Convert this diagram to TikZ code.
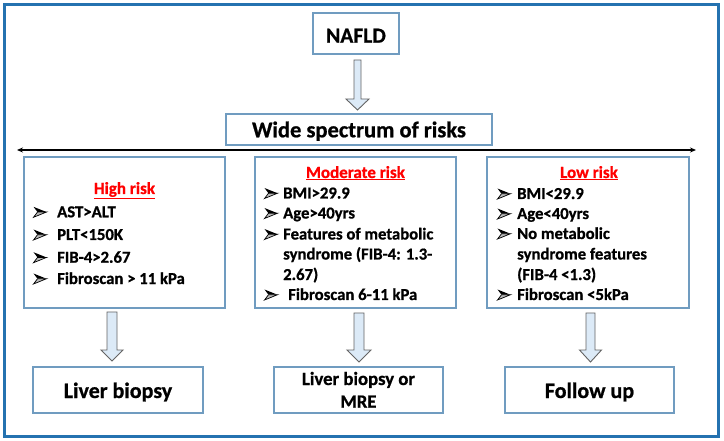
\documentclass[tikz,border=0pt]{standalone}
\usepackage{fontspec}
\setmainfont{Carlito}[BoldFeatures={FakeBold=0.8}]
\usetikzlibrary{arrows.meta,calc}
\definecolor{frameblue}{RGB}{36,114,176}
\definecolor{boxblue}{RGB}{112,156,192}
\definecolor{arrowfill}{RGB}{220,234,247}
\definecolor{arrowline}{RGB}{100,100,100}
\newcommand\blockarr[5]{%
  \draw[barrow] let \p1=(#1), \p2=(#2) in
    (\x1-#3pt,\y1) -- (\x1+#3pt,\y1) -- (\x1+#3pt,\y2+#5pt) -- (\x1+#4pt,\y2+#5pt)
    -- (\x2,\y2) -- (\x1-#4pt,\y2+#5pt) -- (\x1-#3pt,\y2+#5pt) -- cycle;}
% arrowhead bullet: #1 = centre x, #2 = baseline y
\newcommand\arrbul[2]{%
  \begin{scope}[shift={(#1-6.5,#2-10.5)}]
    \fill[black] (0,0) -- (13,5.25) -- (4,5.25) -- cycle;
    \filldraw[fill=gray!55, draw=black, line width=0.7pt, line join=miter] (4,5.25) -- (13,5.25) -- (0,10.5) -- cycle;
  \end{scope}}
\begin{document}
\begin{tikzpicture}[x=1pt,y=-1pt,
  box/.style={draw=boxblue, line width=1.1pt, fill=white, inner sep=0pt},
  barrow/.style={draw=arrowline, fill=arrowfill, line width=0.9pt, line join=miter},
  big/.style={anchor=base, inner sep=0pt, font=\bfseries\fontsize{22}{26}\selectfont},
  ttl/.style={anchor=base, inner sep=0pt, text=red, font=\bfseries\fontsize{17}{20}\selectfont},
  txt/.style={anchor=base west, inner sep=0pt, font=\bfseries\fontsize{16.7}{20}\selectfont}]
\useasboundingbox (0,0) rectangle (724,441);
\fill[white] (0,0) rectangle (724,441);
\draw[frameblue, line width=3pt] (4.5,4.5) rectangle (718,436.5);

% boxes
\node[box, minimum width=86pt, minimum height=41pt] (nafld) at (356,33.5) {};
\node[box, minimum width=266pt, minimum height=31pt] (wide) at (359,129.5) {};
\node[box, minimum width=201pt, minimum height=151pt] (high) at (124.5,232.5) {};
\node[box, minimum width=201pt, minimum height=151pt] (mod) at (355.5,232.5) {};
\node[box, minimum width=202pt, minimum height=151pt] (low) at (588,232.5) {};
\node[box, minimum width=170pt, minimum height=46pt] (biopsy) at (118,390) {};
\node[box, minimum width=169pt, minimum height=46pt] (mre) at (358.5,390) {};
\node[box, minimum width=169pt, minimum height=46pt] (follow) at (589.5,390) {};

% big texts
\node[big, font=\bfseries\fontsize{21.5}{25}\selectfont] (tnafld) at (356,42.7) {NAFLD};
\node[big, font=\bfseries\fontsize{22.5}{26}\selectfont] (twide) at (359,137.3) {Wide spectrum of risks};
\node[big] (tbiopsy) at (118,398) {Liver biopsy};
\node[big, font=\bfseries\fontsize{18.7}{22}\selectfont] (tmre1) at (358.5,385) {Liver biopsy or};
\node[big, font=\bfseries\fontsize{18.7}{22}\selectfont] (tmre2) at (358.5,407.7) {MRE};
\node[big] (tfollow) at (589.5,398) {Follow up};

% titles
\node[ttl] (thigh) at (124.5,194) {\underline{High risk}};
\node[ttl] (tmod) at (355.5,178) {\underline{Moderate risk}};
\node[ttl] (tlow) at (589,178) {\underline{Low risk}};

% high risk list
\arrbul{40}{217.3}
\node[txt] (h1) at (57,217.3) {AST>ALT};
\arrbul{40}{240}
\node[txt] (h2) at (57,240) {PLT<150K};
\arrbul{40}{262.7}
\node[txt] (h3) at (57,262.7) {FIB-4>2.67};
\arrbul{40}{284}
\node[txt] (h4) at (57,284) {Fibroscan > 11 kPa};

% moderate risk list
\arrbul{271}{198.5}
\node[txt] (m1) at (283,198.5) {BMI>29.9};
\arrbul{271}{218.5}
\node[txt] (m2) at (283,218.5) {Age>40yrs};
\arrbul{271}{239.5}
\node[txt] (m3) at (283,239.5) {Features of metabolic};
\node[txt] (m4) at (283,259.5) {syndrome (FIB-4: 1.3-};
\node[txt] (m5) at (283,280) {2.67)};
\arrbul{271}{300}
\node[txt] (m6) at (288,300) {Fibroscan 6-11 kPa};

% low risk list
\arrbul{504}{199}
\node[txt] (l1) at (517,199) {BMI<29.9};
\arrbul{504}{219}
\node[txt] (l2) at (517,219) {Age<40yrs};
\arrbul{504}{239}
\node[txt] (l3) at (517,239) {No metabolic};
\node[txt] (l4) at (517,259.5) {syndrome features};
\node[txt] (l5) at (517,280) {(FIB-4 <1.3)};
\arrbul{504}{300}
\node[txt] (l6) at (517,300) {Fibroscan <5kPa};

% double arrow
\coordinate (dl) at (17,150);
\coordinate (dr) at (696,150);
\draw[{Stealth[length=6pt,width=5pt]}-{Stealth[length=6pt,width=5pt]}, line width=1.3pt] (dl) -- (dr);

% block arrows
\coordinate (a0s) at (357.5,60);   \coordinate (a0e) at (357.5,110);
\coordinate (a1s) at (112,312);    \coordinate (a1e) at (112,361);
\coordinate (a2s) at (359,313);    \coordinate (a2e) at (359,362);
\coordinate (a3s) at (590.5,313);  \coordinate (a3e) at (590.5,362);
\blockarr{a0s}{a0e}{3.5}{11.5}{11}
\blockarr{a1s}{a1e}{5}{11}{11}
\blockarr{a2s}{a2e}{5}{12}{12}
\blockarr{a3s}{a3e}{4.5}{11}{12}
\end{tikzpicture}
\end{document}
